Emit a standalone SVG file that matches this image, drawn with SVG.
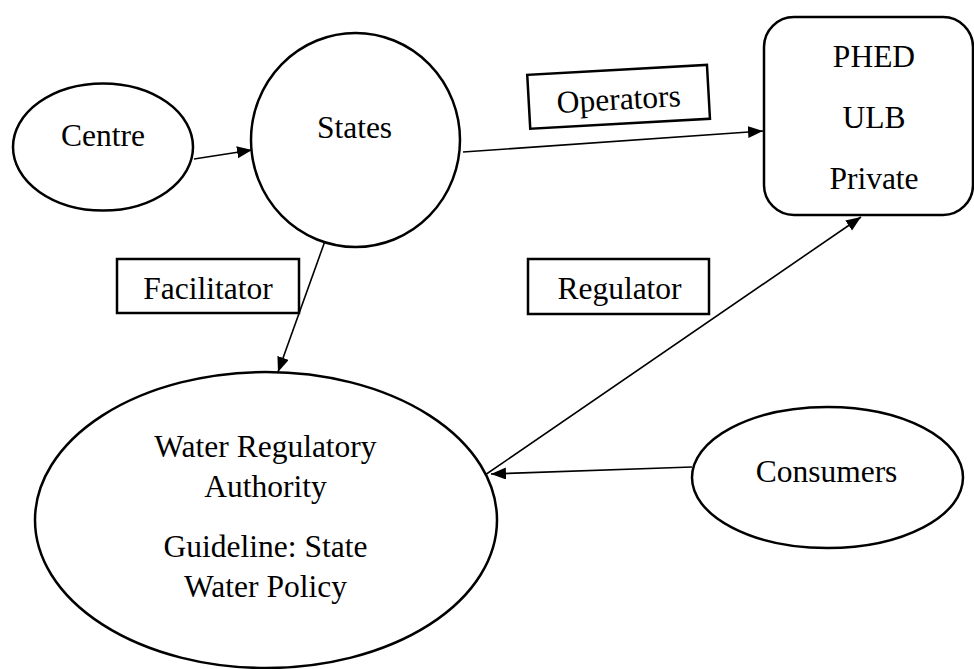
<svg xmlns="http://www.w3.org/2000/svg" width="974" height="669" viewBox="0 0 974 669">
<style>
.node{fill:#fff;stroke:#000;stroke-width:2.5}
.lbl{fill:#fff;stroke:#000;stroke-width:2.5}
text{font-family:'Liberation Serif','Tinos','Times New Roman','DejaVu Serif',serif;font-size:31.5px;fill:#000;text-anchor:middle}
.c{stroke:#000;stroke-width:1.6;fill:none}
</style>
<defs>
<marker id="ah" markerUnits="userSpaceOnUse" markerWidth="16" markerHeight="13" refX="15" refY="6" orient="auto">
<path d="M0,0 L15,6 L0,12 z" fill="#000"/>
</marker>
</defs>
<rect width="974" height="669" fill="#fff"/>
<g id="connectors">
<line class="c" x1="194" y1="159" x2="252" y2="150" marker-end="url(#ah)"/>
<line class="c" x1="463" y1="152" x2="763" y2="131" marker-end="url(#ah)"/>
<line class="c" x1="325" y1="241" x2="278" y2="372" marker-end="url(#ah)"/>
<line class="c" x1="485" y1="475" x2="861" y2="217" marker-end="url(#ah)"/>
<line class="c" x1="692" y1="467" x2="491" y2="474" marker-end="url(#ah)"/>
</g>
<g id="centre">
<ellipse class="node" cx="103" cy="147" rx="90" ry="63.5"/>
<text x="103" y="146" font-family="Liberation Serif, serif">Centre</text>
</g>
<g id="states">
<ellipse class="node" cx="355.5" cy="140" rx="104.5" ry="107"/>
<text x="354.5" y="138" font-family="Liberation Serif, serif">States</text>
</g>
<g id="operators">
<g transform="rotate(-3.2 618.6 96.8)">
<rect class="lbl" x="528.6" y="69.8" width="180" height="54"/>
<text x="618.6" y="109.5">Operators</text>
</g>
</g>
<g id="phed">
<rect class="node" x="764" y="17" width="209" height="198" rx="30" ry="30"/>
<text x="874" y="67">PHED</text>
<text x="874" y="128">ULB</text>
<text x="874" y="189">Private</text>
</g>
<g id="facilitator">
<rect class="lbl" x="117" y="259" width="182" height="54"/>
<text x="208" y="299">Facilitator</text>
</g>
<g id="regulator">
<rect class="lbl" x="528" y="259" width="181" height="55"/>
<text x="619.5" y="299">Regulator</text>
</g>
<g id="wra">
<ellipse class="node" cx="266" cy="520" rx="231" ry="148"/>
<text x="265.5" y="456.5">Water Regulatory</text>
<text x="265.5" y="496.5">Authority</text>
<text x="265.5" y="557">Guideline: State</text>
<text x="265.5" y="597">Water Policy</text>
</g>
<g id="consumers">
<ellipse class="node" cx="827.5" cy="477.5" rx="135.5" ry="70.5"/>
<text x="826.5" y="482">Consumers</text>
</g>
</svg>
